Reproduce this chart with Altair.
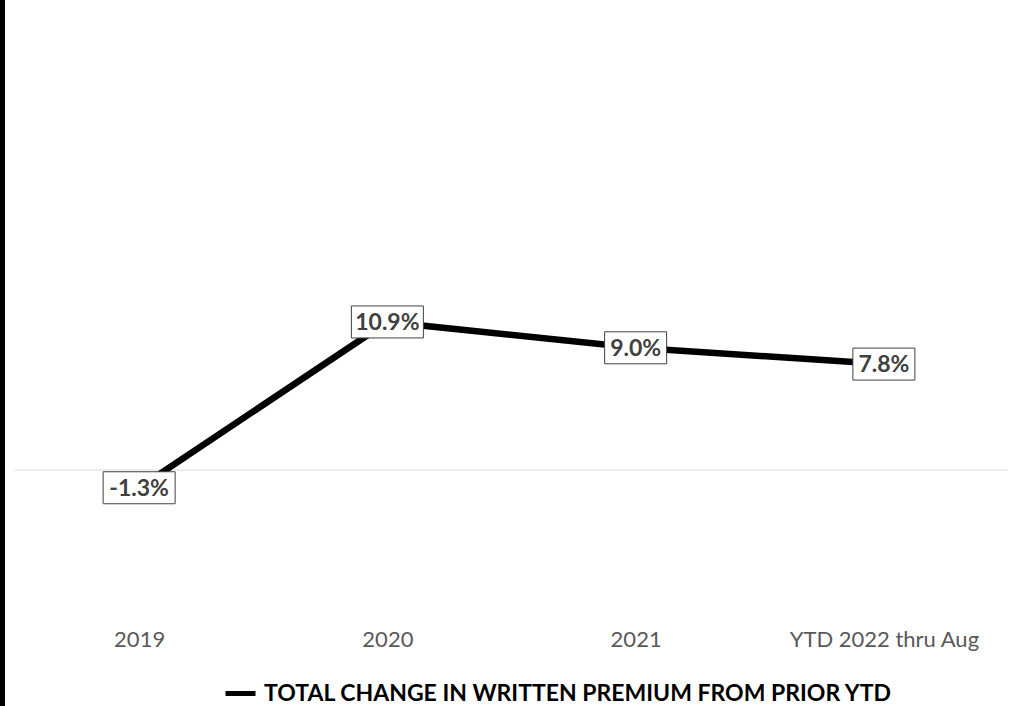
import altair as alt
import pandas as pd

# Year-over-year change in written premium
categories = ["2019", "2020", "2021", "YTD 2022 thru Aug"]
values = [-1.3, 10.9, 9.0, 7.8]
labels = ["-1.3%", "10.9%", "9.0%", "7.8%"]
series_name = "TOTAL CHANGE IN WRITTEN PREMIUM FROM PRIOR YTD"

df = pd.DataFrame({
    "period": categories,
    "change": values,
    "label": labels,
    "series": [series_name] * len(categories),
})

FONT = "Lato"
Y_SCALE = alt.Scale(domain=[-10, 34], nice=False, zero=False)

x_enc = alt.X(
    "period:N",
    sort=categories,
    scale=alt.Scale(paddingInner=0, paddingOuter=0),
    axis=alt.Axis(
        title=None, labelAngle=0, domain=False, ticks=False, grid=False,
        labelFontSize=22, labelColor="#595959", labelFont=FONT,
        labelPadding=23, labelLimit=0,
    ),
)
y_enc = alt.Y("change:Q", scale=Y_SCALE, axis=None)

base = alt.Chart(df)

# zero baseline
zero_rule = alt.Chart(pd.DataFrame({"z": [0]})).mark_rule(
    color="#d9d9d9", strokeWidth=1
).encode(y=alt.Y("z:Q", scale=Y_SCALE, axis=None))

line = base.mark_line(strokeWidth=6.5, strokeCap="butt").encode(
    x=x_enc,
    y=y_enc,
    color=alt.Color(
        "series:N",
        scale=alt.Scale(range=["#000000"]),
        legend=alt.Legend(
            title=None, orient="none", legendX=208, legendY=668,
            symbolType="stroke", symbolSize=900, symbolStrokeWidth=5,
            labelFont=FONT, labelFontSize=23, labelFontWeight="bold",
            labelColor="#000000", labelLimit=0, labelOffset=6,
        ),
    ),
)

# white label boxes sized from the label text length
boxes = base.transform_calculate(
    hw="length(datum.label) * 5 + 11"
).transform_calculate(
    box="'M' + (-datum.hw) + ',-16H' + datum.hw + 'V16H' + (-datum.hw) + 'Z'"
).mark_point(
    filled=True, fill="white", stroke="#404040", strokeWidth=1, opacity=1, size=4
).encode(
    x=x_enc,
    y=y_enc,
    shape=alt.Shape("box:N", scale=None, legend=None),
)

text = base.mark_text(
    font=FONT, fontSize=23, fontWeight="bold", color="#404040", baseline="middle", dy=1
).encode(x=x_enc, y=y_enc, text="label:N")

# dark edge along the left side
edge = alt.Chart(pd.DataFrame({"e": [0]})).mark_rule(
    color="#000000", strokeWidth=5
).encode(x=alt.value(-12.5), y=alt.value(-8), y2=alt.value(700))

chart = alt.layer(zero_rule, line, boxes, text, edge).properties(
    width=993,
    height=598,
    background="white",
    padding={"left": 15, "top": 8, "right": 3, "bottom": 100},
    autosize=alt.AutoSizeParams(type="none"),
).configure_view(stroke="transparent", strokeWidth=0)

chart.save("out.html", embed_options={"renderer": "svg", "actions": False})
